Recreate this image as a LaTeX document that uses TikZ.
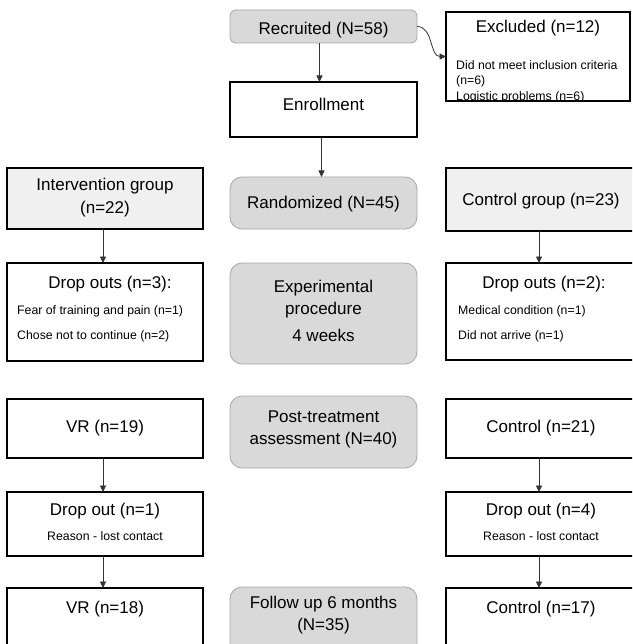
\documentclass[tikz,border=0pt]{standalone}
\usepackage{fontspec}
\setmainfont{Liberation Sans}
\usetikzlibrary{arrows.meta}
\definecolor{boxgray}{HTML}{D9D9D9}
\definecolor{graybd}{HTML}{A6A6A6}
\definecolor{boxlight}{HTML}{F0F0F0}
\definecolor{arrowc}{HTML}{333333}
\begin{document}
\begin{tikzpicture}[x=1pt,y=-1pt,
  box/.style={draw=black, line width=1.2pt, inner sep=0pt, outer sep=0pt},
  wbox/.style={box, fill=white},
  lbox/.style={box, fill=boxlight},
  gbox/.style={draw=graybd, line width=0.8pt, fill=boxgray, rounded corners=12pt, inner sep=0pt, outer sep=0pt},
  big/.style={font=\fontsize{17}{20}\selectfont, inner sep=0pt, anchor=base},
  small/.style={font=\fontsize{12.3}{14}\selectfont, inner sep=0pt, anchor=base},
  smallL/.style={small, anchor=base west},
  arr/.style={draw=arrowc, line width=0.8pt, -{Triangle[length=6.5pt,width=6pt]}}
]
\useasboundingbox (0,0) rectangle (632,644);
\clip (0,0) rectangle (632,644);
\fill[white] (0,0) rectangle (632,644);

% ---- top ----
\node[gbox, rounded corners=6pt, minimum width=187pt, minimum height=33pt] (rec) at (323.5,26.5) {};
\node[big] (recT) at (323.5,35) {Recruited (N=58)};

\node[wbox, minimum width=184pt, minimum height=89pt] (exc) at (538,56.5) {};
\begin{scope}
  \clip (exc.north west) rectangle (exc.south east);
  \node[big] (excT) at (538,33) {Excluded (n=12)};
  \node[smallL] (exc1) at (456,70) {Did not meet inclusion criteria};
  \node[smallL] (exc2) at (456,85) {(n=6)};
  \node[smallL] (exc3) at (456,101) {Logistic problems (n=6)};
\end{scope}

\node[wbox, minimum width=187pt, minimum height=55pt] (enr) at (323.5,109.5) {};
\node[big] (enrT) at (323.5,111) {Enrollment};

% ---- randomisation row ----
\node[lbox, minimum width=196pt, minimum height=61pt] (int) at (105,198.5) {};
\node[big] (intT1) at (105,191) {Intervention group};
\node[big] (intT2) at (105,213) {(n=22)};

\node[gbox, minimum width=187pt, minimum height=52pt] (rnd) at (323.5,203) {};
\node[big] (rndT) at (323.5,208) {Randomized (N=45)};

\node[lbox, minimum width=190pt, minimum height=63pt] (ctl) at (541,199.5) {};
\node[big] (ctlT) at (541,205) {Control group (n=23)};

% ---- procedure row ----
\node[wbox, minimum width=196pt, minimum height=98pt] (do3) at (105,312) {};
\node[big] (do3T) at (110,288) {Drop outs (n=3):};
\node[smallL] (do3a) at (17,314) {Fear of training and pain (n=1)};
\node[smallL] (do3b) at (17,339) {Chose not to continue (n=2)};

\node[gbox, minimum width=187pt, minimum height=101pt] (exp) at (323.5,313.5) {};
\node[big] (expT1) at (323.5,292) {Experimental};
\node[big] (expT2) at (323.5,314) {procedure};
\node[big] (expT3) at (323.5,341) {4 weeks};

\node[wbox, minimum width=190pt, minimum height=97pt] (do2) at (541,311.5) {};
\node[big] (do2T) at (544,288) {Drop outs (n=2):};
\node[smallL] (do2a) at (458,314) {Medical condition (n=1)};
\node[smallL] (do2b) at (458,339) {Did not arrive (n=1)};

% ---- post-treatment row ----
\node[wbox, minimum width=196pt, minimum height=59pt] (vr19) at (105,428.5) {};
\node[big] (vr19T) at (105,432) {VR (n=19)};

\node[gbox, minimum width=187pt, minimum height=72pt] (post) at (323.5,432) {};
\node[big] (postT1) at (323.5,422) {Post-treatment};
\node[big] (postT2) at (323.5,444) {assessment (N=40)};

\node[wbox, minimum width=190pt, minimum height=59pt] (c21) at (541,428.5) {};
\node[big] (c21T) at (541,432) {Control (n=21)};

% ---- drop out row ----
\node[wbox, minimum width=196pt, minimum height=64pt] (do1) at (105,524) {};
\node[big] (do1T) at (105,515) {Drop out (n=1)};
\node[small] (do1a) at (105,540) {Reason - lost contact};

\node[wbox, minimum width=190pt, minimum height=64pt] (do4) at (541,524) {};
\node[big] (do4T) at (541,515) {Drop out (n=4)};
\node[small] (do4a) at (541,540) {Reason - lost contact};

% ---- follow-up row ----
\node[wbox, minimum width=196pt, minimum height=72pt] (vr18) at (105,624) {};
\node[big] (vr18T) at (105,613) {VR (n=18)};

\node[gbox, minimum width=187pt, minimum height=73pt] (fol) at (323.5,623.5) {};
\node[big] (folT1) at (323.5,608) {Follow up 6 months};
\node[big] (folT2) at (323.5,630) {(N=35)};

\node[wbox, minimum width=190pt, minimum height=72pt] (c17) at (541,624) {};
\node[big] (c17T) at (541,613) {Control (n=17)};

% ---- connectors ----
\draw[arr] ([xshift=-4pt]rec.south) -- ([xshift=-4pt]enr.north);
\draw[arr] ([xshift=-2pt]enr.south) -- ([xshift=-2pt]rnd.north);
\draw[arr] (rec.east) to[out=0,in=180] (exc.west);
\draw[arr] ([xshift=-2pt]int.south) -- ([xshift=-2pt]do3.north);
\draw[arr] ([xshift=-2pt]ctl.south) -- ([xshift=-2pt]do2.north);
\draw[arr] ([xshift=-2pt]vr19.south) -- ([xshift=-2pt]do1.north);
\draw[arr] ([xshift=-2pt]do1.south) -- ([xshift=-2pt]vr18.north);
\draw[arr] ([xshift=-2pt]c21.south) -- ([xshift=-2pt]do4.north);
\draw[arr] ([xshift=-2pt]do4.south) -- ([xshift=-2pt]c17.north);
\end{tikzpicture}
\end{document}
